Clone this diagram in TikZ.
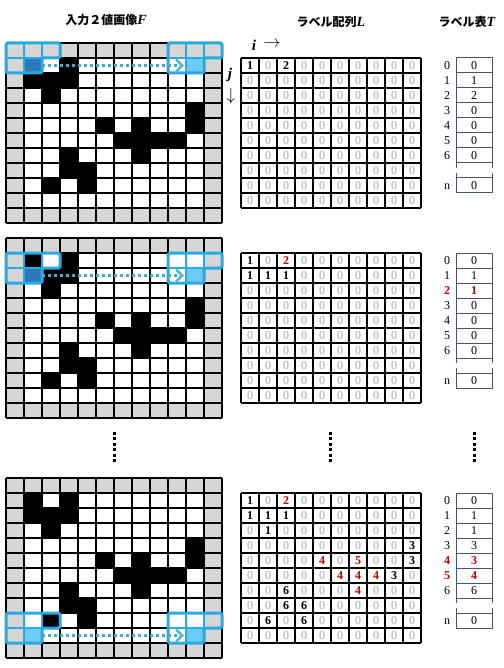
\documentclass[tikz,border=0pt]{standalone}
\usepackage{fontspec}
\setmainfont{Liberation Serif}
\newfontfamily\jp{Noto Sans CJK JP}
\usetikzlibrary{arrows.meta}
\definecolor{bordergray}{HTML}{D6D6D6}
\definecolor{zgray}{HTML}{A6A6A6}
\definecolor{lred}{HTML}{C00000}
\definecolor{winblue}{HTML}{29A9E1}
\definecolor{curdark}{HTML}{2B79B9}
\definecolor{curlight}{HTML}{6DCBF7}
\definecolor{dotcol}{HTML}{52A8C4}
\definecolor{tipcol}{HTML}{4AB5E3}
\definecolor{tline}{HTML}{44546A}
\newcommand\Lb[1]{\textcolor{black}{\bfseries #1}}
\newcommand\Lr[1]{\textcolor{lred}{\bfseries #1}}
\tikzset{
  gridline/.style={black, line width=1.1pt},
  lnum/.style={anchor=base, inner sep=0pt, text=zgray, font=\fontsize{12}{14}\selectfont},
  tnum/.style={anchor=base, inner sep=0pt, text=black, font=\fontsize{12}{14}\selectfont},
  curcell/.style={minimum width=18pt, minimum height=15pt, inner sep=0pt, draw=none},
  winline/.style={winblue, line width=3pt, rounded corners=1.5pt},
  wininner/.style={winblue, line width=2.5pt},
  dotarrow/.style={dotcol, line width=3pt, dash pattern=on 3pt off 3pt,
    -{Straight Barb[length=6pt,width=12pt,line width=2.5pt,color=tipcol]}},
  tbl/.style={tline, line width=1pt},
  heading/.style={inner sep=0pt, font=\fontsize{12}{14}\selectfont},
  vdots/.style={black, line width=3pt, dash pattern=on 3pt off 2.4pt}
}
% #1 id, #2 grid top, #3 current row, #4 left current colour, #5 label rows, #6 table
\newcommand\Panel[6]{%
  \fill[bordergray] (6,#2) rectangle (222,#2+180);
  \fill[white] (24,#2+15) rectangle (204,#2+165);
  \foreach \r/\c in {1/1,1/3,2/1,2/2,2/3,3/2,4/10,5/5,5/7,5/10,6/6,6/7,6/8,6/9,7/3,7/7,8/3,8/4,9/2,9/4}
    \fill[black] ({6+18*\c},{#2+15*\r}) rectangle ++(18,15);
  \node[curcell, fill=#4] (P#1lc) at (33,{#2+15*#3+7.5}) {};
  \node[curcell, fill=curlight] (P#1rc) at (195,{#2+15*#3+7.5}) {};
  \foreach \k in {0,...,12} {
    \draw[gridline] ({6+18*\k},#2) -- ({6+18*\k},#2+180);
    \draw[gridline] (6,{#2+15*\k}) -- (222,{#2+15*\k});
  }
  % scan windows
  \foreach \x in {6,168} {
    \draw[wininner] (\x+18,{#2+15*(#3-1)}) -- (\x+18,{#2+15*(#3+1)});
    \draw[wininner] (\x+36,{#2+15*(#3-1)}) -- (\x+36,{#2+15*#3});
    \draw[wininner] (\x,{#2+15*#3}) -- (\x+54,{#2+15*#3});
    \draw[winline] (\x,{#2+15*(#3-1)}) -- (\x+54,{#2+15*(#3-1)}) -- (\x+54,{#2+15*#3})
      -- (\x+36,{#2+15*#3}) -- (\x+36,{#2+15*(#3+1)}) -- (\x,{#2+15*(#3+1)}) -- cycle;
  }
  \draw[dotarrow] (P#1lc.east) -- ([xshift=-2pt]P#1rc.west);
  % label array
  \foreach \k in {0,...,10} {
    \draw[gridline] ({241+18*\k},#2+15) -- ({241+18*\k},#2+165);
    \draw[gridline] (241,{#2+15+15*\k}) -- (421,{#2+15+15*\k});
  }
  \foreach \row [count=\j from 0] in {#5} {
    \foreach \v [count=\i from 0] in \row {
      \node[lnum] (L#1-\j-\i) at ({250+18*\i},{#2+15+15*\j+11.5}) {\v};
    }
  }
  % label table
  \draw[tbl] (456,#2+15) rectangle (492,#2+120);
  \foreach \k in {1,...,6} \draw[tbl] (456,{#2+15+15*\k}) -- (492,{#2+15+15*\k});
  \foreach \x in {456,492} {
    \draw[tbl] (\x,#2+120) -- (\x,#2+125);
    \draw[tbl] (\x,#2+130) -- (\x,#2+135);
  }
  \draw[tbl] (456,#2+135) rectangle (492,#2+150);
  \foreach \a/\b [count=\i from 0] in {#6} {
    \node[tnum] (I#1-\i) at (447,{#2+15+15*\i+11.5}) {\a};
    \node[tnum] (T#1-\i) at (474,{#2+15+15*\i+11.5}) {\b};
  }
  \node[tnum] (I#1-n) at (447,#2+146.5) {n};
  \node[tnum] (T#1-n) at (474,#2+146.5) {0};
}
\begin{document}
\begin{tikzpicture}[x=1pt, y=-1pt]
\useasboundingbox[fill=white] (0,0) rectangle (503,668);
\node[heading] (hF) at (106,20) {{\jp\bfseries 入力２値画像}{\fontsize{14}{14}\selectfont\bfseries\itshape F}};
\node[heading] (hL) at (331,22) {{\jp\bfseries ラベル配列}{\fontsize{14}{14}\selectfont\bfseries\itshape L}};
\node[heading] (hT) at (467,22) {{\jp\bfseries ラベル表}{\fontsize{14}{14}\selectfont\bfseries\itshape T}};
\node[inner sep=0pt, font=\fontsize{15}{15}\selectfont\bfseries\itshape] (iax) at (254,45) {i};
\node[inner sep=0pt, font=\fontsize{18}{18}\selectfont] (iarr) at (272,44) {$\rightarrow$};
\node[inner sep=0pt, font=\fontsize{15}{15}\selectfont\bfseries\itshape] (jax) at (230,75) {j};
\node[inner sep=0pt, font=\fontsize{18}{18}\selectfont] (jarr) at (231,96) {$\downarrow$};
\Panel{1}{43}{1}{curdark}{
 {\Lb{1},0,\Lb{2},0,0,0,0,0,0,0},
 {0,0,0,0,0,0,0,0,0,0},{0,0,0,0,0,0,0,0,0,0},{0,0,0,0,0,0,0,0,0,0},
 {0,0,0,0,0,0,0,0,0,0},{0,0,0,0,0,0,0,0,0,0},{0,0,0,0,0,0,0,0,0,0},
 {0,0,0,0,0,0,0,0,0,0},{0,0,0,0,0,0,0,0,0,0},{0,0,0,0,0,0,0,0,0,0}}
 {0/0,1/1,2/2,3/0,4/0,5/0,6/0}
\Panel{2}{238}{2}{curdark}{
 {\Lb{1},0,\Lr{2},0,0,0,0,0,0,0},
 {\Lb{1},\Lb{1},\Lb{1},0,0,0,0,0,0,0},
 {0,0,0,0,0,0,0,0,0,0},{0,0,0,0,0,0,0,0,0,0},
 {0,0,0,0,0,0,0,0,0,0},{0,0,0,0,0,0,0,0,0,0},{0,0,0,0,0,0,0,0,0,0},
 {0,0,0,0,0,0,0,0,0,0},{0,0,0,0,0,0,0,0,0,0},{0,0,0,0,0,0,0,0,0,0}}
 {0/0,1/1,\Lr{2}/\Lr{1},3/0,4/0,5/0,6/0}
\Panel{3}{478}{10}{curlight}{
 {\Lb{1},0,\Lr{2},0,0,0,0,0,0,0},
 {\Lb{1},\Lb{1},\Lb{1},0,0,0,0,0,0,0},
 {0,\Lb{1},0,0,0,0,0,0,0,0},
 {0,0,0,0,0,0,0,0,0,\Lb{3}},
 {0,0,0,0,\Lr{4},0,\Lr{5},0,0,\Lb{3}},
 {0,0,0,0,0,\Lr{4},\Lr{4},\Lr{4},\Lb{3},0},
 {0,0,\Lb{6},0,0,0,\Lr{4},0,0,0},
 {0,0,\Lb{6},\Lb{6},0,0,0,0,0,0},
 {0,\Lb{6},0,\Lb{6},0,0,0,0,0,0},
 {0,0,0,0,0,0,0,0,0,0}}
 {0/0,1/1,2/1,3/3,\Lr{4}/\Lr{3},\Lr{5}/\Lr{4},6/6}
\draw[vdots] (114,432) -- (114,462);
\draw[vdots] (330,432) -- (330,462);
\draw[vdots] (474,432) -- (474,462);
\end{tikzpicture}
\end{document}
